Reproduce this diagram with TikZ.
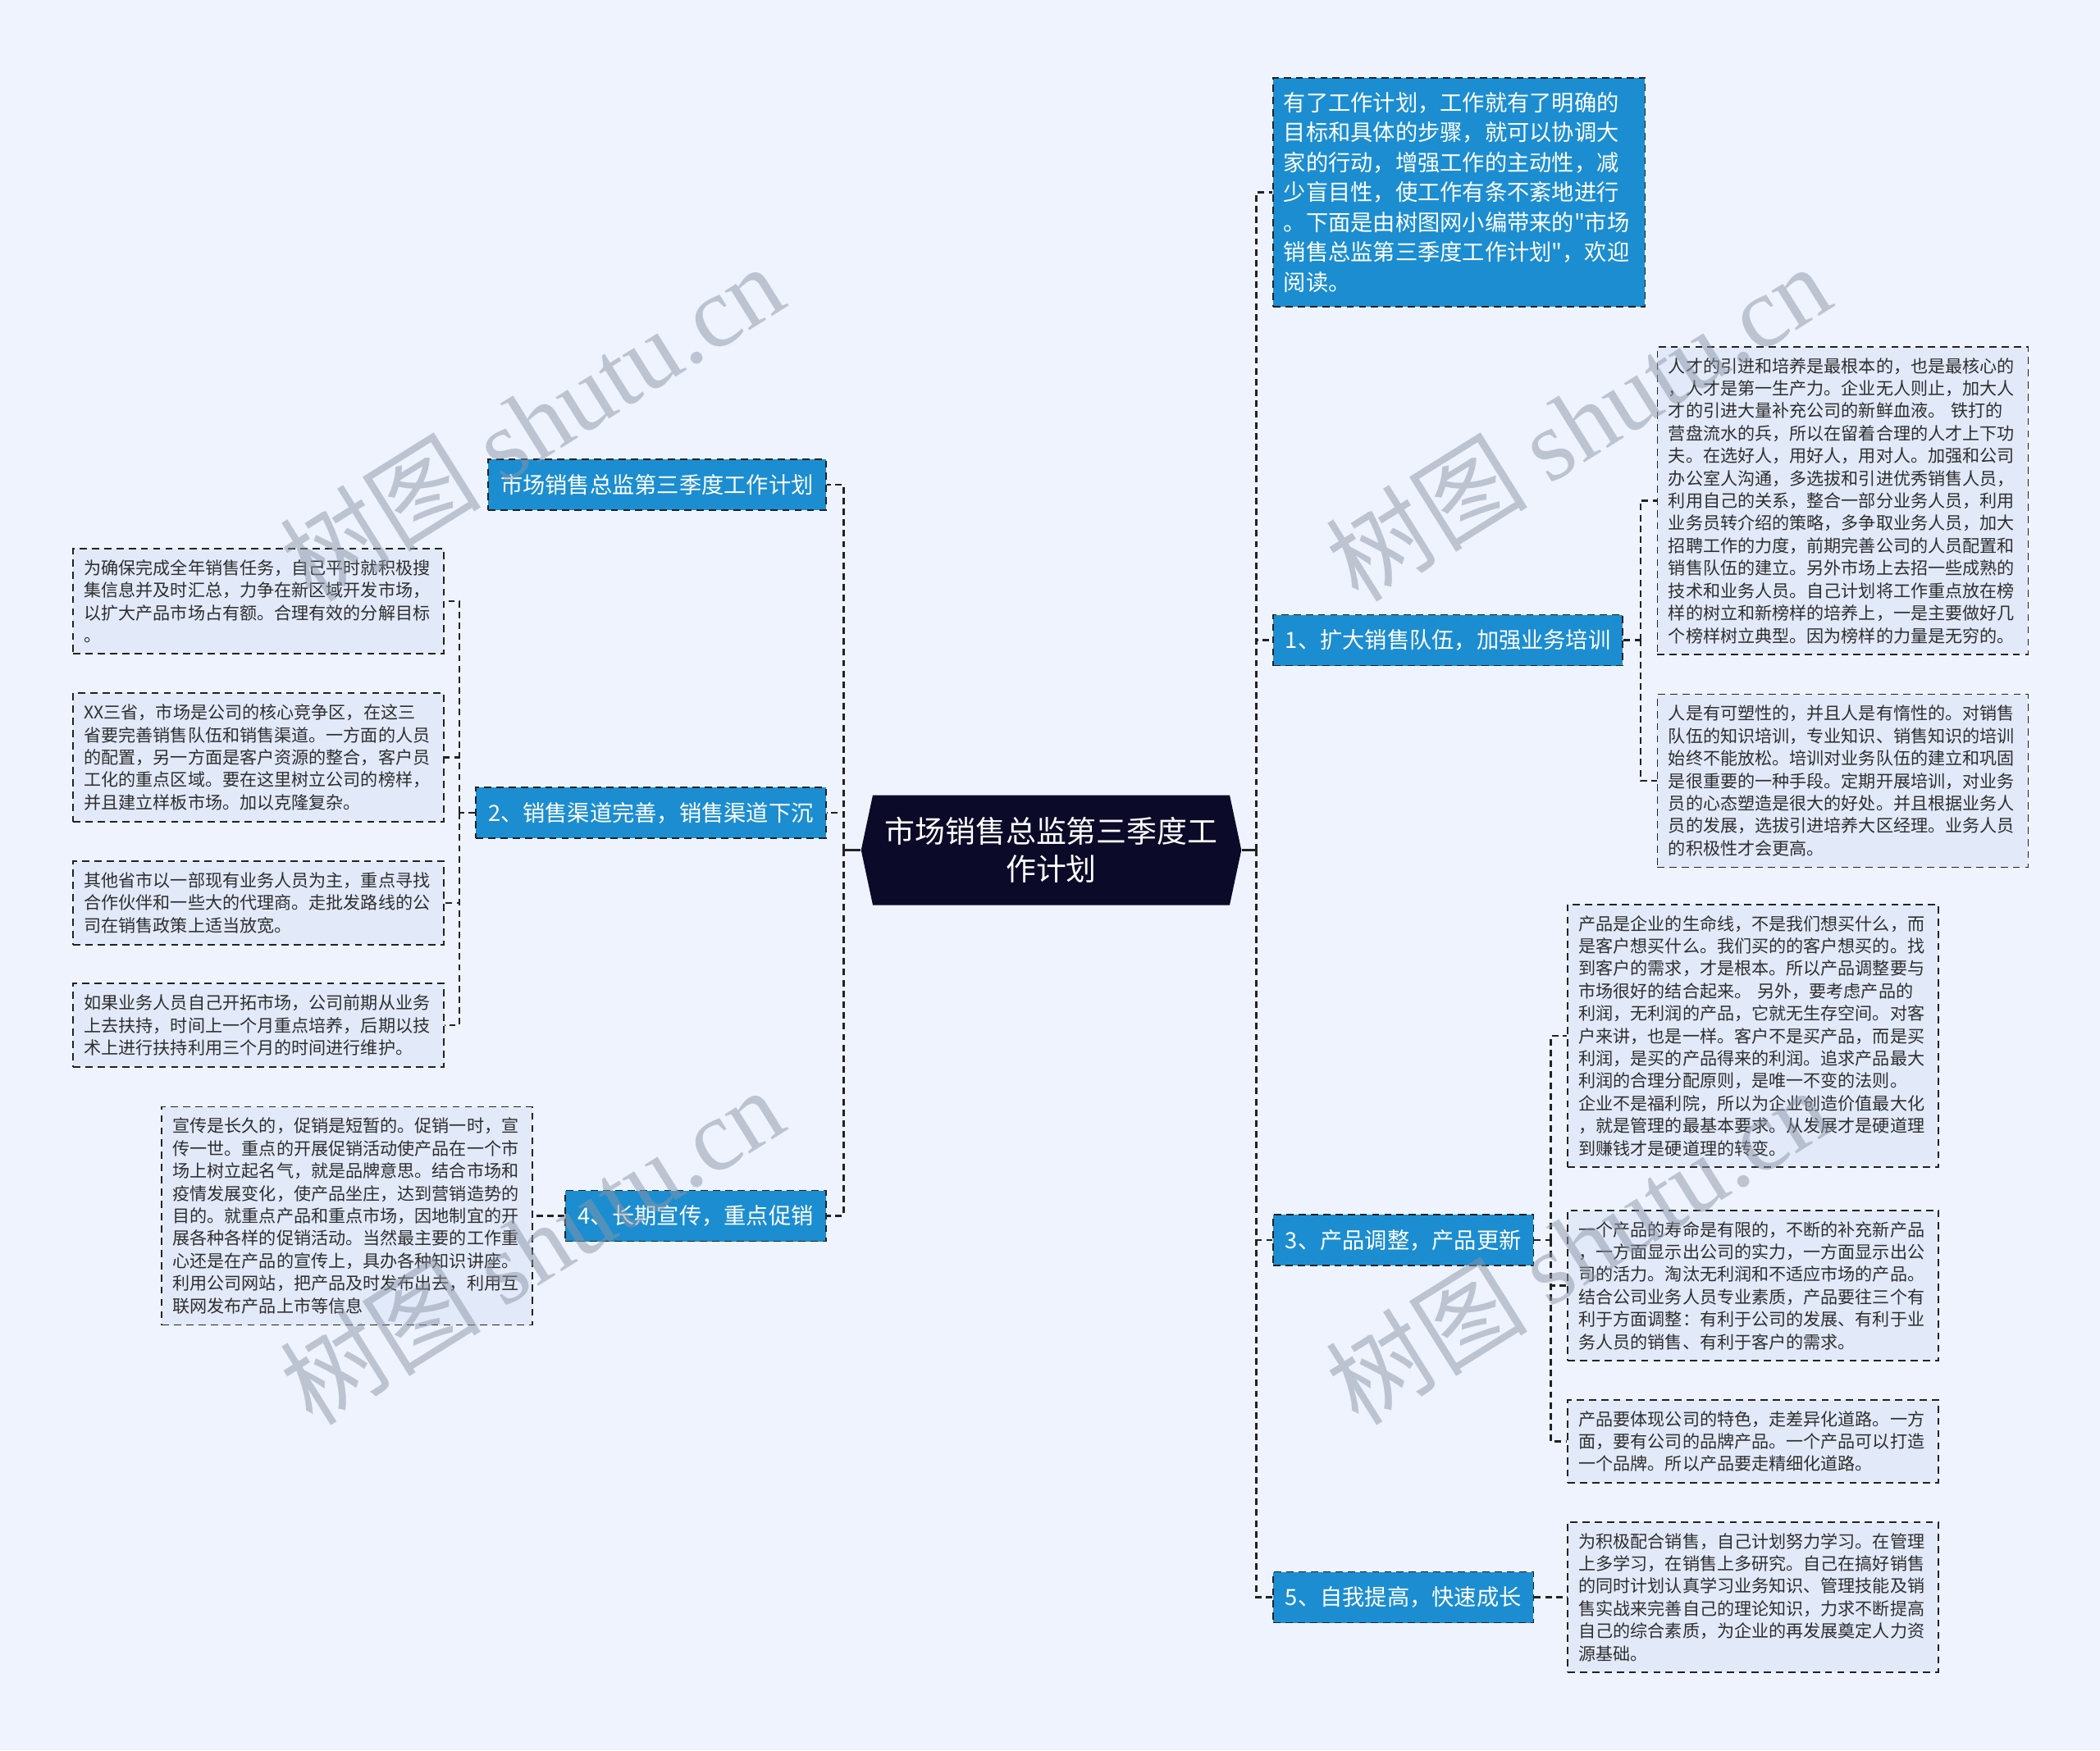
\documentclass[tikz,border=0pt]{standalone}
\usepackage{fontspec}
\setmainfont{Noto Sans CJK SC}[Ligatures=TeXOff]
\newfontfamily\markfont{Liberation Serif}
\usepackage{tikz}
\usepackage{xcolor}
\usetikzlibrary{positioning, calc, shapes.symbols}
\definecolor{cBg}    {HTML}{EEF3FD}
\definecolor{cLeaf}  {HTML}{E2EAF9}
\definecolor{cBranch}{HTML}{1C8DD0}
\definecolor{cRoot}  {HTML}{0C0A29}
\definecolor{cText}  {HTML}{2E2E2E}
\definecolor{cLine}  {HTML}{222222}
\definecolor{cMark}  {HTML}{8C95A6}
\newcommand{\fLeaf}{\fontsize{12pt}{15.6pt}\selectfont}
\newcommand{\fBranch}{\fontsize{15.5pt}{20.8pt}\selectfont}
\newcommand{\fRoot}{\fontsize{21pt}{26.5pt}\selectfont}
\newcommand{\fMark}{\fontsize{70pt}{80pt}\selectfont}
\tikzset{
  leafbox/.style={draw=cLine, line width=1.1pt, dash pattern=on 5pt off 3.5pt,
    fill=cLeaf, text=cText, font=\fLeaf, align=left, text width=85mm,
    inner xsep=2.7mm, inner ysep=2.7mm},
  branchbox/.style={draw=cLine, line width=1.1pt, dash pattern=on 5pt off 3.5pt,
    fill=cBranch, text=white, font=\fBranch, minimum height=12.4mm, inner xsep=3mm},
  link/.style={draw=cLine, line width=1.3pt, dash pattern=on 4.5pt off 3pt},
  stub/.style={draw=cLine, line width=1.6pt},
  watermark/.style={text=cMark, text opacity=0.5, rotate=32, font=\fMark},
}

\begin{document}
\begin{tikzpicture}
  \useasboundingbox (0,0) rectangle (512mm,-426.8mm);
  \fill[cBg] (0,0) rectangle (512mm,-426.8mm);

  % root
  \node[signal, signal to=east and west, signal pointer angle=156, fill=cRoot,
        text=white, font=\fRoot, align=center, minimum width=92.7mm, minimum height=26.8mm]
        (root) at (256.3mm,-207.3mm) {市场销售总监第三季度工\\作计划};
  \coordinate (ltrunk) at (205.7mm,-207.3mm);
  \coordinate (rtrunk) at (306.3mm,-207.3mm);

  % left branches
  \node[branchbox, anchor=east] (l0) at (201.5mm,-118.2mm) {市场销售总监第三季度工作计划};
  \node[branchbox, anchor=east] (l2) at (201.5mm,-198.2mm) {2、销售渠道完善，销售渠道下沉};
  \node[branchbox, anchor=east] (l4) at (201.5mm,-296.5mm) {4、长期宣传，重点促销};

  \node[leafbox, anchor=east] (l2a) at (108.4mm,-146.6mm) {为确保完成全年销售任务，自己平时就积极搜\\集信息并及时汇总，力争在新区域开发市场，\\以扩大产品市场占有额。合理有效的分解目标\\。};
  \node[leafbox, anchor=east] (l2b) at (108.4mm,-184.7mm) {XX三省，市场是公司的核心竞争区，在这三\\省要完善销售队伍和销售渠道。一方面的人员\\的配置，另一方面是客户资源的整合，客户员\\工化的重点区域。要在这里树立公司的榜样，\\并且建立样板市场。加以克隆复杂。};
  \node[leafbox, anchor=east] (l2c) at (108.4mm,-220.2mm) {其他省市以一部现有业务人员为主，重点寻找\\合作伙伴和一些大的代理商。走批发路线的公\\司在销售政策上适当放宽。};
  \node[leafbox, anchor=east] (l2d) at (108.4mm,-250.0mm) {如果业务人员自己开拓市场，公司前期从业务\\上去扶持，时间上一个月重点培养，后期以技\\术上进行扶持利用三个月的时间进行维护。};
  \coordinate (l2fork) at (112.0mm,-198.2mm);

  \node[leafbox, anchor=east] (l4a) at (130.0mm,-296.5mm) {宣传是长久的，促销是短暂的。促销一时，宣\\传一世。重点的开展促销活动使产品在一个市\\场上树立起名气，就是品牌意思。结合市场和\\疫情发展变化，使产品坐庄，达到营销造势的\\目的。就重点产品和重点市场，因地制宜的开\\展各种各样的促销活动。当然最主要的工作重\\心还是在产品的宣传上，具办各种知识讲座。\\利用公司网站，把产品及时发布出去，利用互\\联网发布产品上市等信息};

  % right branches
  \node[branchbox, anchor=west, align=left, text width=85.5mm, inner xsep=2.6mm, inner ysep=3.5mm]
        (intro) at (310.2mm,-46.9mm) {有了工作计划，工作就有了明确的\\目标和具体的步骤，就可以协调大\\家的行动，增强工作的主动性，减\\少盲目性，使工作有条不紊地进行\\。下面是由树图网小编带来的"市场\\销售总监第三季度工作计划"，欢迎\\阅读。};
  \node[branchbox, anchor=west] (r1) at (310.2mm,-156.1mm) {1、扩大销售队伍，加强业务培训};
  \node[branchbox, anchor=west] (r3) at (310.2mm,-302.4mm) {3、产品调整，产品更新};
  \node[branchbox, anchor=west] (r5) at (310.2mm,-389.5mm) {5、自我提高，快速成长};

  \node[leafbox, anchor=west] (r1a) at (403.9mm,-122.1mm) {人才的引进和培养是最根本的，也是最核心的\\，人才是第一生产力。企业无人则止，加大人\\才的引进大量补充公司的新鲜血液。 铁打的\\营盘流水的兵，所以在留着合理的人才上下功\\夫。在选好人，用好人，用对人。加强和公司\\办公室人沟通，多选拔和引进优秀销售人员，\\利用自己的关系，整合一部分业务人员，利用\\业务员转介绍的策略，多争取业务人员，加大\\招聘工作的力度，前期完善公司的人员配置和\\销售队伍的建立。另外市场上去招一些成熟的\\技术和业务人员。自己计划将工作重点放在榜\\样的树立和新榜样的培养上，一是主要做好几\\个榜样树立典型。因为榜样的力量是无穷的。};
  \node[leafbox, anchor=west] (r1b) at (403.9mm,-190.4mm) {人是有可塑性的，并且人是有惰性的。对销售\\队伍的知识培训，专业知识、销售知识的培训\\始终不能放松。培训对业务队伍的建立和巩固\\是很重要的一种手段。定期开展培训，对业务\\员的心态塑造是很大的好处。并且根据业务人\\员的发展，选拔引进培养大区经理。业务人员\\的积极性才会更高。};
  \coordinate (r1fork) at (400.0mm,-156.1mm);

  \node[leafbox, anchor=west] (r3a) at (382.0mm,-252.6mm) {产品是企业的生命线，不是我们想买什么，而\\是客户想买什么。我们买的的客户想买的。找\\到客户的需求，才是根本。所以产品调整要与\\市场很好的结合起来。 另外，要考虑产品的\\利润，无利润的产品，它就无生存空间。对客\\户来讲，也是一样。客户不是买产品，而是买\\利润，是买的产品得来的利润。追求产品最大\\利润的合理分配原则，是唯一不变的法则。\\企业不是福利院，所以为企业创造价值最大化\\，就是管理的最基本要求。从发展才是硬道理\\到赚钱才是硬道理的转变。};
  \node[leafbox, anchor=west] (r3b) at (382.0mm,-313.5mm) {一个产品的寿命是有限的，不断的补充新产品\\，一方面显示出公司的实力，一方面显示出公\\司的活力。淘汰无利润和不适应市场的产品。\\结合公司业务人员专业素质，产品要往三个有\\利于方面调整：有利于公司的发展、有利于业\\务人员的销售、有利于客户的需求。};
  \node[leafbox, anchor=west] (r3c) at (382.0mm,-351.5mm) {产品要体现公司的特色，走差异化道路。一方\\面，要有公司的品牌产品。一个产品可以打造\\一个品牌。所以产品要走精细化道路。};
  \coordinate (r3fork) at (378.1mm,-302.4mm);

  \node[leafbox, anchor=west] (r5a) at (382.0mm,-389.5mm) {为积极配合销售，自己计划努力学习。在管理\\上多学习，在销售上多研究。自己在搞好销售\\的同时计划认真学习业务知识、管理技能及销\\售实战来完善自己的理论知识，力求不断提高\\自己的综合素质，为企业的再发展奠定人力资\\源基础。};

  % connectors
  \draw[stub] (root.west) -- (ltrunk);
  \draw[stub] (root.east) -- (rtrunk);
  \foreach \n in {l0, l2, l4}{
    \draw[link] (ltrunk) |- (\n.east);
  }
  \foreach \n in {intro, r1, r3, r5}{
    \draw[link] (rtrunk) |- (\n.west);
  }
  \draw[link] (l2.west) -- (l2fork);
  \foreach \n in {l2a, l2b, l2c, l2d}{
    \draw[link] (l2fork) |- (\n.east);
  }
  \draw[link] (l4.west) -- (l4a.east);
  \draw[link] (r1.east) -- (r1fork);
  \foreach \n in {r1a, r1b}{
    \draw[link] (r1fork) |- (\n.west);
  }
  \draw[link] (r3.east) -- (r3fork);
  \foreach \n in {r3a, r3b, r3c}{
    \draw[link] (r3fork) |- (\n.west);
  }
  \draw[link] (r5.east) -- (r5a.west);

  % watermarks
  \node[watermark] (markTL) at (129.6mm,-102.9mm) {树图 {\markfont shutu.cn}};
  \node[watermark] (markTR) at (384.7mm,-102.9mm) {树图 {\markfont shutu.cn}};
  \node[watermark] (markBL) at (129.6mm,-303.7mm) {树图 {\markfont shutu.cn}};
  \node[watermark] (markBR) at (384.7mm,-303.7mm) {树图 {\markfont shutu.cn}};
\end{tikzpicture}
\end{document}
